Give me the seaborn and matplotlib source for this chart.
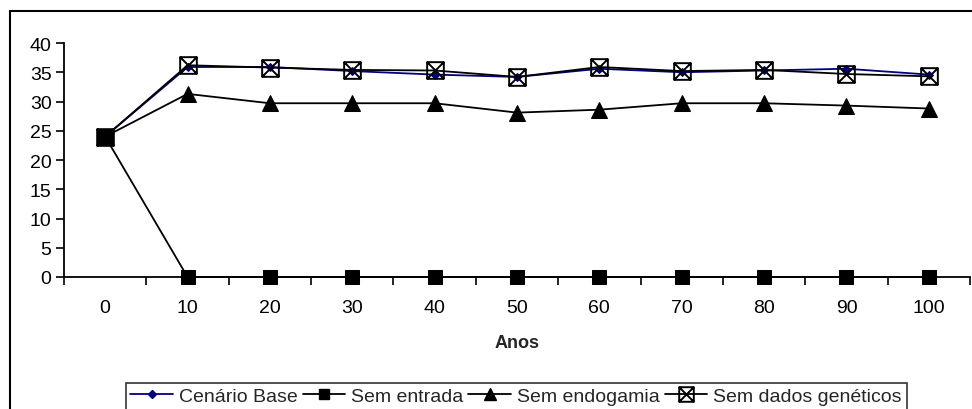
import matplotlib
matplotlib.use("Agg")
import matplotlib.pyplot as plt
from matplotlib.path import Path
from matplotlib.patches import Rectangle
from matplotlib.lines import Line2D
from matplotlib.ticker import FixedLocator, NullFormatter
import numpy as np
import pandas as pd
import seaborn as sns

# Years (category labels on the x axis)
anos = ["0", "10", "20", "30", "40", "50", "60", "70", "80", "90", "100"]

# Series values
cenario_base = [24.0, 35.9, 35.9, 35.2, 34.6, 34.2, 35.6, 35.0, 35.3, 35.6, 34.6]
sem_entrada = [24.0, 0, 0, 0, 0, 0, 0, 0, 0, 0, 0]
sem_endogamia = [24.0, 31.3, 29.7, 29.7, 29.7, 28.1, 28.6, 29.7, 29.7, 29.3, 28.8]
sem_dados_geneticos = [24.0, 36.2, 35.8, 35.4, 35.3, 34.2, 35.9, 35.2, 35.4, 34.7, 34.3]

series_names = ["Cenário Base", "Sem entrada", "Sem endogamia", "Sem dados genéticos"]
series_values = [cenario_base, sem_entrada, sem_endogamia, sem_dados_geneticos]

sns.set_theme(style="white")
plt.rcParams["font.family"] = ["Liberation Sans", "DejaVu Sans"]
plt.rcParams["font.size"] = 14

# Square with diagonal cross marker
box_x = Path(
    [(-1, -1), (1, -1), (1, 1), (-1, 1), (-1, -1),
     (-1, -1), (1, 1), (-1, 1), (1, -1)],
    [Path.MOVETO, Path.LINETO, Path.LINETO, Path.LINETO, Path.CLOSEPOLY,
     Path.MOVETO, Path.LINETO, Path.MOVETO, Path.LINETO],
)

styles = {
    "Cenário Base": dict(color="#000080", marker="D", markersize=4.5,
                         markerfacecolor="#000080", markeredgecolor="#000080", zorder=3),
    "Sem entrada": dict(color="black", marker="s", markersize=10,
                        markerfacecolor="black", markeredgecolor="black", zorder=5),
    "Sem endogamia": dict(color="black", marker="^", markersize=11,
                          markerfacecolor="black", markeredgecolor="black", zorder=3),
    "Sem dados genéticos": dict(color="black", marker=box_x, markersize=12,
                                markerfacecolor="none", markeredgecolor="black",
                                markeredgewidth=1.4, zorder=4),
}
legend_marker_sizes = {"Cenário Base": 4.5, "Sem entrada": 7.5,
                       "Sem endogamia": 8, "Sem dados genéticos": 10.5}

df = pd.DataFrame({
    "pos": np.tile(np.arange(len(anos)), len(series_names)),
    "valor": np.concatenate(series_values),
    "serie": np.repeat(series_names, len(anos)),
})

fig = plt.figure(figsize=(9.72, 4.10), dpi=100)
ax = fig.add_axes([64 / 972, 1 - 278 / 410, (970 - 64) / 972, (278 - 44) / 410])

for name in series_names:
    sub = df[df["serie"] == name]
    st = styles[name]
    sns.lineplot(data=sub, x="pos", y="valor", ax=ax, legend=False,
                 linewidth=1.3, estimator=None, sort=False, clip_on=False, **st)

ax.set_xlim(-0.5, len(anos) - 0.5)
ax.set_ylim(0, 40)
ax.set_yticks(np.arange(0, 41, 5))
ax.set_xticks(np.arange(len(anos)))
ax.set_xticklabels(anos)
ax.xaxis.set_minor_locator(FixedLocator(np.arange(-0.5, len(anos), 1.0)))
ax.xaxis.set_minor_formatter(NullFormatter())
ax.tick_params(axis="x", which="major", length=0, pad=16, labelsize=14, colors="black")
ax.tick_params(axis="x", which="minor", length=6, width=1.2, direction="out",
               color="black", bottom=True)
ax.tick_params(axis="y", which="major", length=6, width=1.2, direction="out",
               left=True, labelsize=14, colors="black", pad=3)

for side in ["top", "right"]:
    ax.spines[side].set_visible(False)
for side in ["left", "bottom"]:
    ax.spines[side].set_color("black")
    ax.spines[side].set_linewidth(1.3)

ax.set_xlabel("Anos", fontweight="bold", fontsize=13, labelpad=13)
ax.set_ylabel("")

handles = []
for name in series_names:
    st = dict(styles[name])
    st.pop("zorder")
    st["markersize"] = legend_marker_sizes[name]
    handles.append(Line2D([], [], linewidth=1.3, **st))

leg = fig.legend(handles, series_names, loc="upper center", ncol=4,
                 bbox_to_anchor=(516 / 972, 1 - 374 / 410),
                 frameon=True, fancybox=False, edgecolor="black",
                 handlelength=2.2, handletextpad=0.3, columnspacing=0.25,
                 borderpad=0.25, fontsize=14)
leg.get_frame().set_linewidth(1.2)

# Outer chart border
fig.patches.append(Rectangle((10 / 972, -0.05), 1.1, 0.05 + 1 - 12 / 410,
                             transform=fig.transFigure, fill=False,
                             edgecolor="black", linewidth=1.5, zorder=0))

fig.savefig("out.png", dpi=100)
